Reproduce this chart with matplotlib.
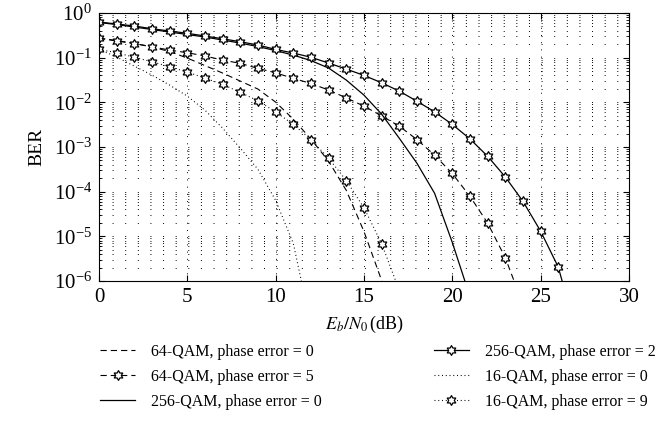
import numpy as np
import matplotlib
matplotlib.use('Agg')
import matplotlib.pyplot as plt
from matplotlib.path import Path
from matplotlib.ticker import MultipleLocator, LogLocator, NullFormatter, NullLocator

plt.rcParams['font.family'] = 'Liberation Serif'
plt.rcParams['mathtext.fontset'] = 'stix'
plt.rcParams['font.size'] = 12
plt.rcParams['lines.scale_dashes'] = False

# Eb/N0 в dB и BER для каждой кривой
snr_64_pe0 = np.arange(0, 18)
ber_64_pe0 = [0.275, 0.242, 0.209, 0.173, 0.137, 0.098, 0.0665, 0.0452, 0.0299,
              0.0198, 0.0101, 0.0042, 0.0015, 4.8e-4, 1.07e-4, 1.29e-5, 1.03e-6, 4.7e-8]

snr_64_pe5 = np.arange(0, 25)
ber_64_pe5 = [0.271, 0.236, 0.207, 0.175, 0.148, 0.129, 0.109, 0.0883, 0.0745,
              0.0575, 0.0458, 0.0343, 0.0265, 0.0188, 0.0126, 0.00822, 0.00498,
              0.00292, 0.00147, 6.55e-4, 2.55e-4, 7.88e-5, 1.99e-5, 3.33e-6, 3.0e-7]

snr_256_pe0 = np.arange(0, 22)
ber_256_pe0 = [0.612, 0.552, 0.485, 0.427, 0.375, 0.330, 0.290, 0.248, 0.212,
               0.177, 0.144, 0.114, 0.0861, 0.0585, 0.0315, 0.0145, 0.00544,
               0.00157, 4.33e-4, 9.2e-5, 7.33e-6, 4.5e-7]

snr_256_pe2 = np.arange(0, 28)
ber_256_pe2 = [0.628, 0.567, 0.511, 0.445, 0.395, 0.351, 0.305, 0.265, 0.227,
               0.192, 0.153, 0.127, 0.102, 0.0757, 0.0555, 0.0401, 0.0274,
               0.0178, 0.0106, 0.00612, 0.00320, 0.00152, 6.22e-4, 2.14e-4,
               6.09e-5, 1.31e-5, 2.05e-6, 7.8e-8]

snr_16_pe0 = np.arange(0, 13)
ber_16_pe0 = [0.156, 0.103, 0.0648, 0.0407, 0.0243, 0.0138, 0.00668, 0.00264,
              9.4e-4, 3.16e-4, 6.41e-5, 6.97e-6, 1.0e-7]

snr_16_pe9 = np.arange(0, 18)
ber_16_pe9 = [0.153, 0.129, 0.102, 0.0809, 0.0625, 0.0475, 0.0349, 0.0252,
              0.0167, 0.0108, 0.00612, 0.00320, 0.00146, 5.61e-4, 1.77e-4,
              4.36e-5, 6.86e-6, 6.15e-7]

labels = ['64-QAM, phase error = 0', '64-QAM, phase error = 5',
          '256-QAM, phase error = 0', '256-QAM, phase error = 2',
          '16-QAM, phase error = 0', '16-QAM, phase error = 9']

# маркер-гексаграмма
hexagram = Path.unit_regular_star(6, 0.58)

fig = plt.figure(figsize=(6.62, 4.42), dpi=100)
ax_w = 0.8005
ax = fig.add_axes([0.1495, 0.3643, ax_w, 0.6063])

dash = (0, (4.5, 2.9))
dot = (0, (0.7, 2.0))
mk = dict(marker=hexagram, markersize=7, markerfacecolor='white',
          markeredgecolor='k', markeredgewidth=0.9)

ax.semilogy(snr_64_pe0, ber_64_pe0, color='k', lw=0.8, linestyle=dash, label=labels[0])
ax.semilogy(snr_64_pe5, ber_64_pe5, color='k', lw=0.8, linestyle=dash, label=labels[1], **mk)
ax.semilogy(snr_256_pe0, ber_256_pe0, color='k', lw=0.9, linestyle='-', label=labels[2])
ax.semilogy(snr_256_pe2, ber_256_pe2, color='k', lw=0.9, linestyle='-', label=labels[3], **mk)
ax.semilogy(snr_16_pe0, ber_16_pe0, color='k', lw=0.8, linestyle=dot, label=labels[4])
ax.semilogy(snr_16_pe9, ber_16_pe9, color='k', lw=0.8, linestyle=dot, label=labels[5], **mk)

ax.set_xlim(0, 30)
ax.set_ylim(1e-6, 1)
ax.xaxis.set_major_locator(MultipleLocator(5))
ax.xaxis.set_minor_locator(NullLocator())
ax.yaxis.set_major_locator(LogLocator(base=10, numticks=10))
ax.yaxis.set_minor_locator(LogLocator(base=10, subs=np.arange(2, 10), numticks=20))
ax.yaxis.set_minor_formatter(NullFormatter())
ax.tick_params(which='both', direction='in', top=True, right=True, labelsize=15)
ax.tick_params(which='major', length=4)
ax.tick_params(which='minor', length=2)
ax.tick_params(axis='x', pad=5)
ax.tick_params(axis='y', pad=5)

# сетка: точки по горизонтальным линиям с шагом 5/7 dB, как в исходнике
period_pt = ax_w * 6.62 * 72 / 42
ax.grid(which='both', axis='y', color='k', linewidth=0.7,
        linestyle=(-0.35, (0.7, period_pt - 0.7)))
ax.grid(which='major', axis='x', color='k', linewidth=0.7,
        linestyle=(0, (0.7, 4.5)))

ax.set_xlabel('$E_b/N_0\\,$(dB)', fontsize=13, labelpad=5)
ax.set_ylabel('BER', fontsize=14, labelpad=6)

fig.legend(*ax.get_legend_handles_labels(), loc='upper left',
           bbox_to_anchor=(100 / 662, 1 - 344 / 442), ncol=2,
           frameon=False, fontsize=11.5, handlelength=2.2, handletextpad=1.0,
           columnspacing=7.0, labelspacing=0.55, numpoints=1,
           borderpad=0, borderaxespad=0)

fig.savefig('out.png', dpi=100)
